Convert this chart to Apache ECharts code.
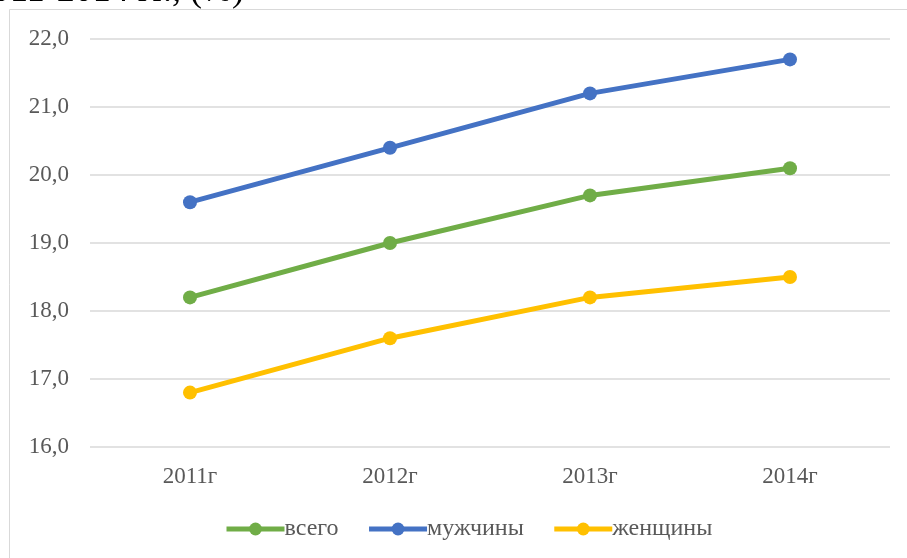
<!DOCTYPE html>
<html>
<head>
<meta charset="utf-8">
<script src="https://cdn.jsdelivr.net/npm/echarts@6/dist/echarts.min.js"></script>
<style>
  html, body { margin: 0; padding: 0; background: #fff; }
  #chart { width: 907px; height: 558px; }
</style>
</head>
<body>
<div id="chart"></div>
<script>
var years = ['2011г', '2012г', '2013г', '2014г'];
var vsego = [18.2, 19.0, 19.7, 20.1];
var muzhchiny = [19.6, 20.4, 21.2, 21.7];
var zhenshchiny = [16.8, 17.6, 18.2, 18.5];

var myChart = echarts.init(document.getElementById('chart'));
var font = '"Liberation Serif", "Times New Roman", serif';

function line(name, data, color) {
    return {
        name: name,
        type: 'line',
        data: data,
        symbol: 'circle',
        symbolSize: 14,
        lineStyle: { width: 5, color: color },
        itemStyle: { color: color },
        emphasis: { disabled: true }
    };
}

var option = {
    animation: false,
    backgroundColor: '#fff',
    textStyle: { fontFamily: font },
    graphic: [
        {
            type: 'rect',
            shape: { x: 9.5, y: 9.5, width: 920, height: 600 },
            style: { fill: 'none', stroke: '#d9d9d9', lineWidth: 1 },
            z: -1
        },
        {
            type: 'text',
            left: -8,
            top: -26,
            style: { text: '011-2014 гг., (%)', font: '36px ' + font, fill: '#000' }
        }
    ],
    legend: {
        bottom: 12,
        left: 219,
        itemWidth: 58,
        itemHeight: 16,
        itemGap: 28,
        lineStyle: { width: 5 },
        textStyle: { fontSize: 24, color: '#595959', fontFamily: font, padding: [0, 0, 0, -5] },
        data: ['всего', 'мужчины', 'женщины']
    },
    grid: { left: 90, right: 17, top: 39, bottom: 111 },
    xAxis: {
        type: 'category',
        data: years,
        boundaryGap: true,
        axisLine: { show: false },
        axisTick: { show: false },
        axisLabel: { fontSize: 23, color: '#595959', fontFamily: font, margin: 18 }
    },
    yAxis: {
        type: 'value',
        min: 16,
        max: 22,
        interval: 1,
        axisLine: { show: false },
        axisTick: { show: false },
        splitLine: { lineStyle: { color: '#d9d9d9', width: 1.5 } },
        axisLabel: {
            fontSize: 23, color: '#595959', fontFamily: font, margin: 21,
            formatter: function (v) { return v.toFixed(1).replace('.', ','); }
        }
    },
    series: [
        line('всего', vsego, '#70ad47'),
        line('мужчины', muzhchiny, '#4472c4'),
        line('женщины', zhenshchiny, '#ffc000')
    ]
};
myChart.setOption(option);
</script>
</body>
</html>
